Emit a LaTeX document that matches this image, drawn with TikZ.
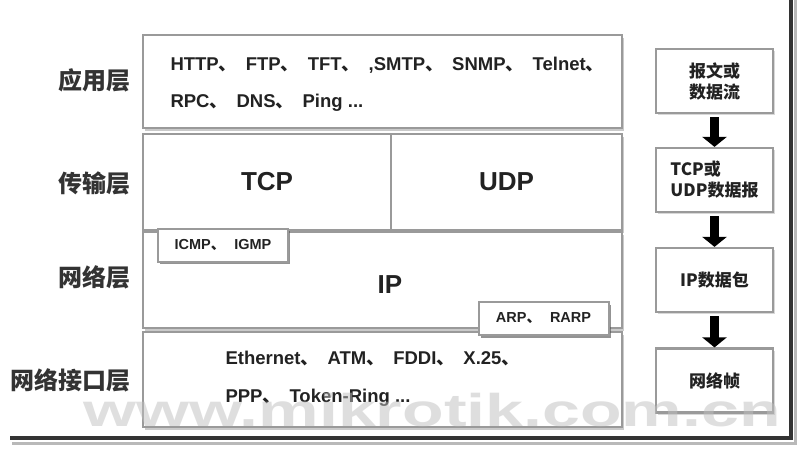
\documentclass[tikz,border=0pt]{standalone}
\usepackage{fontspec}
\setmainfont{Liberation Sans}
\newfontfamily\cjk{Noto Sans CJK SC}
\usetikzlibrary{arrows.meta,shadows}
\definecolor{boxgray}{HTML}{9A9A9A}
\definecolor{txt}{HTML}{222222}
\newcommand{\dn}{{\cjk\bfseries 、}\hspace{8.5pt}}
\newcommand{\dns}{{\cjk\bfseries 、}\hspace{9pt}}
\begin{document}
\begin{tikzpicture}[x=1pt,y=-1pt,
  layerbox/.style={draw=boxgray, line width=2.5pt, fill=white, inner sep=0pt,
    drop shadow={shadow xshift=1.5pt, shadow yshift=-2.5pt, fill=gray!70, opacity=0.6}},
  tagbox/.style={draw=boxgray, line width=2pt, fill=white, inner sep=0pt,
    minimum width=130pt, minimum height=33pt, text=txt,
    font=\fontsize{14.5}{16}\selectfont\bfseries,
    drop shadow={shadow xshift=2pt, shadow yshift=-2.5pt, fill=black!70, opacity=0.6}},
  pktbox/.style={draw=boxgray, line width=2.2pt, fill=white, inner sep=0pt,
    minimum width=117pt, minimum height=64pt, text=txt, align=center,
    font=\cjk\bfseries\fontsize{17}{21}\selectfont,
    drop shadow={shadow xshift=1.5pt, shadow yshift=-2pt, fill=gray!60, opacity=0.5}},
  layerlabel/.style={anchor=east, text=black!80, font=\cjk\bfseries\fontsize{24}{26}\selectfont},
  prottext/.style={anchor=west, text=txt, font=\fontsize{18.5}{20}\selectfont\bfseries},
  bigtext/.style={text=txt, font=\fontsize{26}{28}\selectfont\bfseries},
  downarrow/.style={line width=9pt, black, -{Triangle[length=10pt,width=24pt]}},
  framedark/.style={line width=4.5pt, black!80},
  frameshade/.style={line width=3pt, gray!55}
]
\useasboundingbox (0,0) rectangle (800,450);

% layer boxes
\node[layerbox, minimum width=479pt, minimum height=93pt] (app) at (382.5,81.5) {};
\node[layerbox, minimum width=248pt, minimum height=96pt] (tcp) at (267,182) {};
\node[layerbox, minimum width=231pt, minimum height=96pt] (udp) at (506.5,182) {};
\node[layerbox, minimum width=479pt, minimum height=96pt] (ip) at (382.5,280) {};
\node[layerbox, minimum width=479pt, minimum height=95pt] (iface) at (382.5,379.5) {};

% texts in layer boxes
\node[prottext] (app1) at (167,65) {HTTP\dn FTP\dn TFT\dn ,SMTP\dn SNMP\dn Telnet{\cjk\bfseries 、}};
\node[prottext] (app2) at (167,103) {RPC\dn DNS\dn Ping ...};
\node[bigtext] (tcpt) at (tcp.center) {TCP};
\node[bigtext] (udpt) at (udp.center) {UDP};
\node[bigtext] (ipt) at (390,285) {IP};
\node[prottext] (if1) at (222,358) {Ethernet\dn ATM\dn FDDI\dn X.25{\cjk\bfseries 、}};
\node[prottext] (if2) at (222,398) {PPP\dn Token-Ring ...};

% tag boxes
\node[tagbox] (icmp) at (223,245) {ICMP\dns IGMP};
\node[tagbox] (arp) at (543.5,318.5) {ARP\dns RARP};

% layer labels
\node[layerlabel] (l1) at (134,80) {应用层};
\node[layerlabel] (l2) at (134,183) {传输层};
\node[layerlabel] (l3) at (134,277) {网络层};
\node[layerlabel] (l4) at (134,380) {网络接口层};

% packet boxes
\node[pktbox] (p1) at (714.5,81) {报文或\\数据流};
\node[pktbox, align=left] (p2) at (714.5,180) {TCP或\\UDP数据报};
\node[pktbox] (p3) at (714.5,280) {IP数据包};
\node[pktbox] (p4) at (714.5,380.5) {网络帧};

\draw[downarrow] (p1.south) ++(0,3) coordinate (a1s) (a1s) -- (p2.north);
\draw[downarrow] (p2.south) ++(0,3) coordinate (a2s) (a2s) -- (p3.north);
\draw[downarrow] (p3.south) ++(0,3) coordinate (a3s) (a3s) -- (p4.north);

% frame
\coordinate (ftop) at (791,0);
\coordinate (fcorner) at (791,438);
\coordinate (fleft) at (10,438);
\draw[frameshade] (795.5,0) -- (795.5,443) -- (12,443);
\draw[framedark] (ftop) -- (fcorner) -- (fleft);

% watermark
\node[text=gray!50, opacity=0.5, font=\fontsize{46}{50}\selectfont\bfseries, xscale=1.48, anchor=base] (wm) at (432,426) {www.mikrotik.com.cn};
\end{tikzpicture}
\end{document}
